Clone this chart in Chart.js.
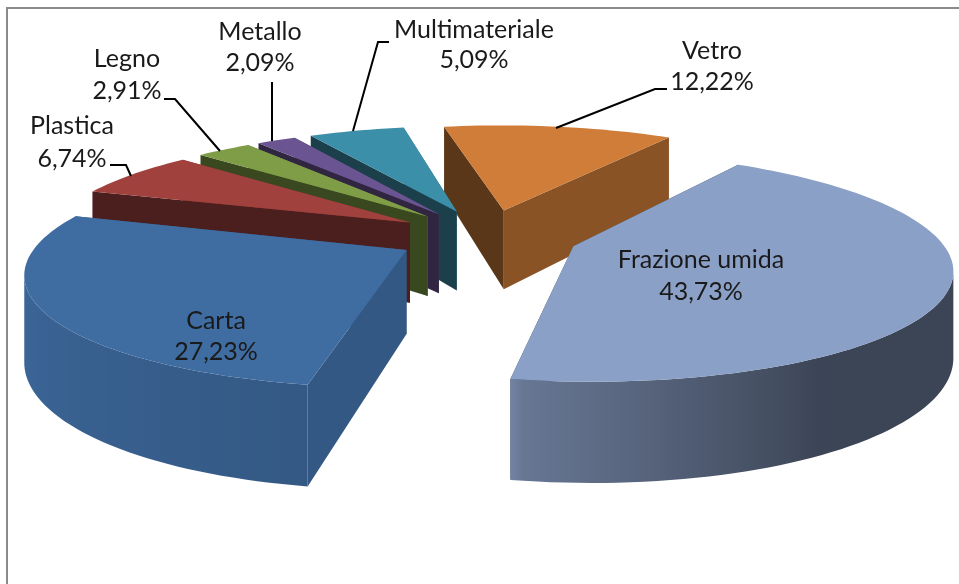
<!DOCTYPE html>
<html>
<head>
<meta charset="utf-8">
<style>
  html, body { margin: 0; padding: 0; background: #fff; }
  canvas { display: block; }
</style>
<script src="https://cdn.jsdelivr.net/npm/chart.js@4"></script>
</head>
<body>
<canvas id="pie" width="959" height="584"></canvas>
<script>
const categories = ["Frazione umida", "Carta", "Plastica", "Legno", "Metallo", "Multimateriale", "Vetro"];
const shares = [43.73, 27.23, 6.74, 2.91, 2.09, 5.09, 12.22];
const topColors = ["#8ba0c7", "#3f6ca1", "#a0413e", "#7f9d46", "#6a5491", "#3c8fa8", "#cf7d38"];

// where each label sits, same order as categories: [centre x, first line y, second line y]
const labelSpots = [[701, 260, 292], [216, 321, 352], [72, 126, 159], [127, 59, 91], [260, 32, 63], [474, 30, 60], [712, 51, 82]];
const leaders = [
  null, null,
  [[110, 165], [126, 165], [131, 176]],
  [[164, 99], [175, 99], [220, 151]],
  [[272, 82], [272, 141]],
  [[389, 42], [378, 42], [353, 131]],
  [[667, 89], [655, 89], [556, 128]]
];

// perspective camera for the pie plane
const view = { cx: 487, cy: 236, a: 365, b: 108, p: 0.174, h: 82 };

function project(X, Y) {
  let w = 1 - view.p * Y;
  return { x: view.cx + view.a * X / w, y: view.cy + view.b * Y / w, drop: view.h / w };
}

function lerpTable(table, v) {
  if (v <= table[0][0]) return table[0][1];
  for (let i = 1; i < table.length; i++) {
    if (v <= table[i][0]) {
      let t = (v - table[i-1][0]) / (table[i][0] - table[i-1][0]);
      return table[i-1][1] + t * (table[i][1] - table[i-1][1]);
    }
  }
  return table[table.length-1][1];
}

function shadeColor(hex, k) {
  let n = parseInt(hex.slice(1), 16);
  return "rgb(" + Math.round((n >> 16) * k) + "," + Math.round(((n >> 8) & 255) * k) + "," + Math.round((n & 255) * k) + ")";
}

const radialShades = [[100, 0.82], [122, 0.67], [198, 0.47], [240, 0.45], [258, 0.44]];

function curvedShade(deg) {
  if (deg < 190) return lerpTable([[148, 0.43], [190, 0.75]], deg);
  return lerpTable([[190, 0.82], [270, 0.97]], deg);
}

function fillPoly(ctx, pts, color) {
  ctx.fillStyle = color;
  ctx.beginPath();
  pts.forEach(function(p, i) { i ? ctx.lineTo(p.x, p.y) : ctx.moveTo(p.x, p.y); });
  ctx.closePath();
  ctx.fill();
}

function wallQuad(p1, p2) {
  return [p1, p2, { x: p2.x, y: p2.y + p2.drop }, { x: p1.x, y: p1.y + p1.drop }];
}

function toDeg(rad) {
  return (rad * 180 / Math.PI + 90 + 720) % 360;
}

// draws one arc element of the chart as an exploded 3D slice
function drawSlice(ctx, arc, color) {
  let e = arc.options.offset / arc.outerRadius;
  let mid = (arc.startAngle + arc.endAngle) / 2;
  let ox = e * Math.cos(mid), oy = e * Math.sin(mid);
  let apex = project(ox, oy);
  let rim = [];
  let steps = Math.max(2, Math.ceil((arc.endAngle - arc.startAngle) / 0.03));
  for (let i = 0; i <= steps; i++) {
    let ang = arc.startAngle + (arc.endAngle - arc.startAngle) * i / steps;
    let pt = project(ox + Math.cos(ang), oy + Math.sin(ang));
    pt.ang = ang;
    rim.push(pt);
  }

  // radial walls, the one further back first
  let walls = [
    { depth: Math.sin(arc.startAngle), pts: wallQuad(apex, rim[0]),
      color: shadeColor(color, lerpTable(radialShades, (toDeg(arc.startAngle) - 90 + 360) % 360)) },
    { depth: Math.sin(arc.endAngle), pts: wallQuad(apex, rim[steps]),
      color: shadeColor(color, lerpTable(radialShades, (toDeg(arc.endAngle) + 90) % 360)) }
  ];
  walls.sort(function(a, b) { return a.depth - b.depth; });
  walls.forEach(function(w) { fillPoly(ctx, w.pts, w.color); });

  // outer wall, from the sideways extreme of the rim round to the front corner
  if (Math.sin(mid) > 0) {
    let xs = rim.map(function(p) { return p.x; });
    let onRight = Math.cos(mid) > 0;
    let turn = xs.indexOf(onRight ? Math.max.apply(null, xs) : Math.min.apply(null, xs));
    let front = onRight ? rim.slice(turn) : rim.slice(0, turn + 1);
    let x0 = Math.min(front[0].x, front[front.length-1].x);
    let x1 = Math.max(front[0].x, front[front.length-1].x);
    let grad = ctx.createLinearGradient(x0, 0, x1, 0);
    front.forEach(function(p) {
      grad.addColorStop((p.x - x0) / (x1 - x0), shadeColor(color, curvedShade(toDeg(p.ang))));
    });
    let band = front.concat(front.slice().reverse().map(function(p) {
      return { x: p.x, y: p.y + p.drop };
    }));
    fillPoly(ctx, band, grad);
  }

  fillPoly(ctx, [apex].concat(rim), color);
}

const pie3d = {
  id: "pie3d",
  beforeDatasetsDraw: function(chart) {
    let ctx = chart.ctx;
    // chart frame, open on the right and at the bottom
    ctx.save();
    ctx.strokeStyle = "#8a8a8a";
    ctx.lineWidth = 2;
    ctx.beginPath();
    ctx.moveTo(7, 584);
    ctx.lineTo(7, 8);
    ctx.lineTo(959, 8);
    ctx.stroke();

    let arcs = chart.getDatasetMeta(0).data.map(function(arc, i) { return { arc: arc, i: i }; });
    // far slices first
    arcs.sort(function(a, b) {
      return Math.sin((a.arc.startAngle + a.arc.endAngle) / 2) - Math.sin((b.arc.startAngle + b.arc.endAngle) / 2);
    });
    arcs.forEach(function(s) { drawSlice(ctx, s.arc, topColors[s.i]); });
    ctx.restore();
    return false;
  },
  afterDraw: function(chart) {
    let ctx = chart.ctx;
    ctx.save();
    ctx.strokeStyle = "#000";
    ctx.lineWidth = 2;
    leaders.forEach(function(line) {
      if (!line) return;
      ctx.beginPath();
      line.forEach(function(p, i) { i ? ctx.lineTo(p[0], p[1]) : ctx.moveTo(p[0], p[1]); });
      ctx.stroke();
    });
    ctx.fillStyle = "#1a1a1a";
    ctx.font = "25px Lato";
    ctx.textAlign = "center";
    ctx.textBaseline = "middle";
    categories.forEach(function(name, i) {
      let spot = labelSpots[i];
      ctx.fillText(name, spot[0], spot[1]);
      ctx.fillText(shares[i].toFixed(2).replace(".", ",") + "%", spot[0], spot[2]);
    });
    ctx.restore();
  }
};

new Chart(document.getElementById("pie"), {
  type: "pie",
  data: {
    labels: categories,
    datasets: [{
      label: "Percentuale",
      data: shares,
      backgroundColor: topColors,
      borderWidth: 0,
      offset: 65
    }]
  },
  options: {
    responsive: false,
    animation: false,
    rotation: 33,
    plugins: {
      legend: { display: false },
      tooltip: { enabled: false }
    }
  },
  plugins: [pie3d]
});
</script>
</body>
</html>
